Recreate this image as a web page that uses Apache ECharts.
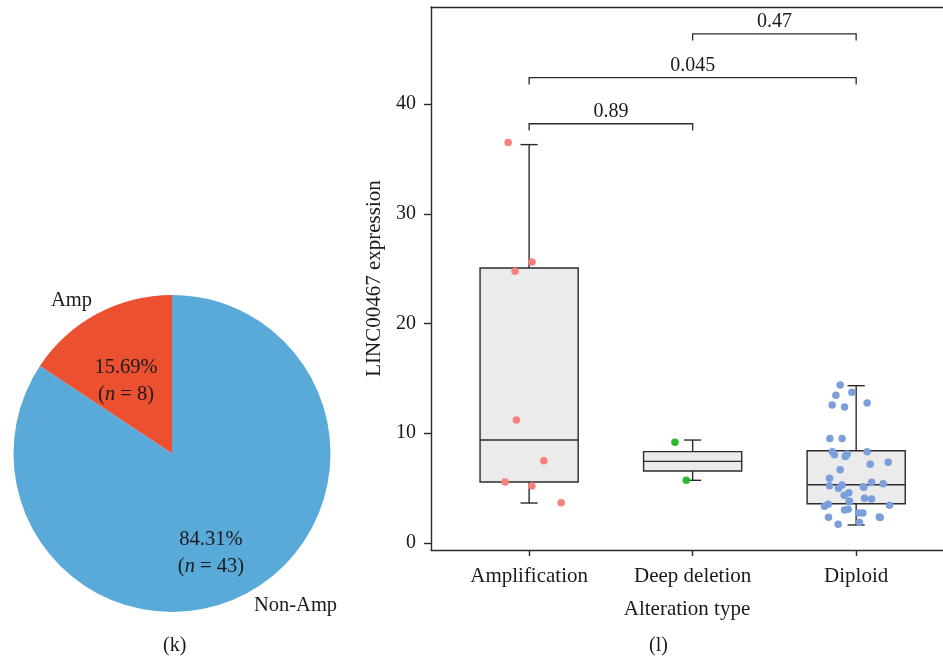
<!DOCTYPE html>
<html>
<head>
<meta charset="utf-8">
<script src="https://cdn.jsdelivr.net/npm/echarts@6/dist/echarts.min.js"></script>
<style>
  html, body { margin: 0; padding: 0; background: #ffffff; }
  #chart { width: 943px; height: 656px; }
</style>
</head>
<body>
<div id="chart"></div>
<script>
// ---- panel (k): amplification status ----
const pieNames = ['Amp', 'Non-Amp'];
const pieCounts = [8, 43];
const pieColors = ['#EB5030', '#5AAAD9'];

// ---- panel (l): expression by alteration type ----
const categories = ['Amplification', 'Deep deletion', 'Diploid'];
const boxLow    = [3.64, 5.71, 1.64];
const boxQ1     = [5.56, 6.56, 3.58];
const boxMedian = [9.38, 7.44, 5.31];
const boxQ3     = [25.06, 8.32, 8.41];
const boxHigh   = [36.3, 9.38, 14.33];
const pointColors = ['#F8827B', '#2DB92D', '#7C9FDB'];

// jittered observations: [category position, LINC00467 expression]
const ampPoints = [
  [0.872, 36.5], [1.018, 25.6], [0.914, 24.75], [0.922, 11.2],
  [1.090, 7.5], [0.853, 5.56], [1.017, 5.2], [1.196, 3.67]
];
const deepPoints = [
  [1.892, 9.18], [1.961, 5.71]
];
const diploidPoints = [
  [2.902, 14.40], [2.974, 13.73], [2.876, 13.46], [2.853, 12.57], [2.929, 12.39],
  [3.067, 12.76], [2.839, 9.51], [2.914, 9.51], [2.855, 8.32], [2.867, 8.05],
  [2.945, 8.11], [2.933, 7.87], [2.935, 7.93], [3.067, 8.32], [3.086, 7.17],
  [3.196, 7.35], [2.902, 6.68], [2.837, 5.89], [2.837, 5.22], [2.914, 5.28],
  [2.892, 4.98], [3.043, 5.13], [3.047, 5.07], [3.094, 5.53], [3.165, 5.40],
  [2.955, 4.58], [2.927, 4.35], [2.957, 3.83], [2.959, 3.76], [3.051, 4.07],
  [3.094, 4.01], [2.829, 3.52], [2.806, 3.34], [3.204, 3.43], [2.929, 3.01],
  [2.951, 3.07], [3.014, 2.73], [3.041, 2.73], [2.831, 2.34], [3.141, 2.37],
  [3.147, 2.32], [2.890, 1.70], [3.020, 1.88]
];

const yTicks = [0, 10, 20, 30, 40];
const xTicks = [1, 2, 3];

// pairwise comparisons: [from, to, bracket height, p value]
const comparisons = [
  [1, 2, 38.2, '0.89'],
  [1, 3, 42.4, '0.045'],
  [2, 3, 46.4, '0.47']
];

const FONT = '"Liberation Serif", "DejaVu Serif", serif';
const INK = '#1a1a1a';
const LINE = '#2b2b2b';

const boxData = categories.map((c, i) =>
  [i + 1, boxLow[i], boxQ1[i], boxMedian[i], boxQ3[i], boxHigh[i]]);

function renderBox(params, api) {
  const x = api.value(0);
  const halfW = api.size([0.6, 0])[0] / 2;
  const capHalf = api.size([0.105, 0])[0] / 2;
  const pLow = api.coord([x, api.value(1)]);
  const pQ1 = api.coord([x, api.value(2)]);
  const pMed = api.coord([x, api.value(3)]);
  const pQ3 = api.coord([x, api.value(4)]);
  const pHigh = api.coord([x, api.value(5)]);
  const cx = pMed[0];
  const stroke = { stroke: LINE, lineWidth: 1.4, fill: null };
  return {
    type: 'group',
    children: [
      { type: 'line', shape: { x1: cx, y1: pQ3[1], x2: cx, y2: pHigh[1] }, style: stroke },
      { type: 'line', shape: { x1: cx - capHalf, y1: pHigh[1], x2: cx + capHalf, y2: pHigh[1] }, style: stroke },
      { type: 'line', shape: { x1: cx, y1: pQ1[1], x2: cx, y2: pLow[1] }, style: stroke },
      { type: 'line', shape: { x1: cx - capHalf, y1: pLow[1], x2: cx + capHalf, y2: pLow[1] }, style: stroke },
      { type: 'rect', shape: { x: cx - halfW, y: pQ3[1], width: halfW * 2, height: pQ1[1] - pQ3[1] },
        style: { fill: '#EBEBEB', stroke: LINE, lineWidth: 1.4 } },
      { type: 'line', shape: { x1: cx - halfW, y1: pMed[1], x2: cx + halfW, y2: pMed[1] }, style: stroke }
    ]
  };
}

function renderBracket(params, api) {
  const a = api.value(0), b = api.value(1), h = api.value(2);
  const drop = 0.62;
  const p1 = api.coord([a, h - drop]);
  const p2 = api.coord([a, h]);
  const p3 = api.coord([b, h]);
  const p4 = api.coord([b, h - drop]);
  return {
    type: 'group',
    children: [
      { type: 'polyline', shape: { points: [p1, p2, p3, p4] },
        style: { stroke: LINE, lineWidth: 1.3, fill: null } },
      { type: 'text', x: (p2[0] + p3[0]) / 2, y: p2[1] - 2,
        style: { text: comparisons[params.dataIndex][3], fill: INK, font: '20px ' + FONT,
                 align: 'center', verticalAlign: 'bottom' } }
    ]
  };
}

function scatterSeries(points, color) {
  return {
    type: 'scatter', xAxisIndex: 0, yAxisIndex: 0, data: points,
    symbolSize: 7.5, itemStyle: { color: color, opacity: 1 }, z: 5, silent: true
  };
}

const chart = echarts.init(document.getElementById('chart'), null, { renderer: 'canvas' });

const pieData = pieNames.map((n, i) => ({ name: n, value: pieCounts[i], itemStyle: { color: pieColors[i] } }));

chart.setOption({
  animation: false,
  backgroundColor: '#ffffff',
  textStyle: { fontFamily: FONT, color: INK },
  grid: { left: 431, right: 0, top: 7, bottom: 106, containLabel: false },
  xAxis: [
    {
      type: 'value', position: 'bottom', min: 0.4, max: 3.531,
      axisLine: { show: true, onZero: false, lineStyle: { color: LINE, width: 1.4 } },
      axisTick: { show: true, customValues: xTicks, length: 6, lineStyle: { color: LINE, width: 1.4 } },
      axisLabel: { show: true, customValues: xTicks, margin: 16, color: INK, fontSize: 21, fontFamily: FONT,
                   formatter: v => categories[Math.round(v) - 1] },
      splitLine: { show: false },
      name: 'Alteration type', nameLocation: 'middle', nameGap: 49,
      nameTextStyle: { fontSize: 21, fontFamily: FONT, color: INK }
    },
    {
      type: 'value', position: 'top', min: 0.4, max: 3.531,
      axisLine: { show: true, onZero: false, lineStyle: { color: LINE, width: 1.4 } },
      axisTick: { show: false }, axisLabel: { show: false }, splitLine: { show: false }
    }
  ],
  yAxis: {
    type: 'value', min: -0.64, max: 48.84,
    axisLine: { show: true, onZero: false, lineStyle: { color: LINE, width: 1.4 } },
    axisTick: { show: true, customValues: yTicks, length: 7, lineStyle: { color: LINE, width: 1.4 } },
    axisLabel: { show: true, customValues: yTicks, margin: 15, color: INK, fontSize: 20, fontFamily: FONT },
    splitLine: { show: false },
    name: 'LINC00467 expression', nameLocation: 'middle', nameGap: 41,
    nameTextStyle: { fontSize: 21, fontFamily: FONT, color: INK }
  },
  series: [
    {
      type: 'pie', center: [172, 453.5], radius: 158.5, startAngle: 90, clockwise: false,
      data: pieData, silent: true,
      itemStyle: { borderWidth: 0 },
      label: {
        show: true, position: 'inside',
        formatter: p => '{t|' + p.percent.toFixed(2) + '%}\n{t|(}{i|n}{t| = ' + p.value + ')}',
        rich: {
          t: { fontSize: 20.5, fontFamily: FONT, color: INK, lineHeight: 27 },
          i: { fontSize: 20.5, fontFamily: FONT, fontStyle: 'italic', color: INK, lineHeight: 27 }
        }
      },
      labelLayout: p => (p.dataIndex === 1 ? { dy: 27 } : { dx: -7, dy: 0 }),
      labelLine: { show: false }
    },
    {
      type: 'pie', center: [172, 453.5], radius: 158.5, startAngle: 90, clockwise: false,
      data: pieNames.map((n, i) => ({ name: n, value: pieCounts[i] })),
      silent: true, z: 1,
      itemStyle: { color: 'rgba(0,0,0,0)', borderWidth: 0 },
      label: { show: true, position: 'outside', formatter: '{b}', fontSize: 20.5, fontFamily: FONT, color: INK },
      labelLine: { show: false, length: 0, length2: 0 },
      labelLayout: p => (p.dataIndex === 0 ? { dy: -13 } : { dx: 2, dy: 12 })
    },
    {
      type: 'custom', xAxisIndex: 0, yAxisIndex: 0, data: boxData, renderItem: renderBox,
      z: 2, silent: true, clip: false
    },
    scatterSeries(ampPoints, pointColors[0]),
    scatterSeries(deepPoints, pointColors[1]),
    scatterSeries(diploidPoints, pointColors[2]),
    {
      type: 'custom', xAxisIndex: 0, yAxisIndex: 0,
      data: comparisons.map(c => [c[0], c[1], c[2]]),
      renderItem: renderBracket, z: 3, silent: true, clip: false
    }
  ],
  graphic: [
    { type: 'text', left: 163, top: 636, style: { text: '(k)', font: '20px ' + FONT, fill: INK } },
    { type: 'text', left: 649, top: 636, style: { text: '(l)', font: '20px ' + FONT, fill: INK } }
  ]
});
</script>
</body>
</html>
